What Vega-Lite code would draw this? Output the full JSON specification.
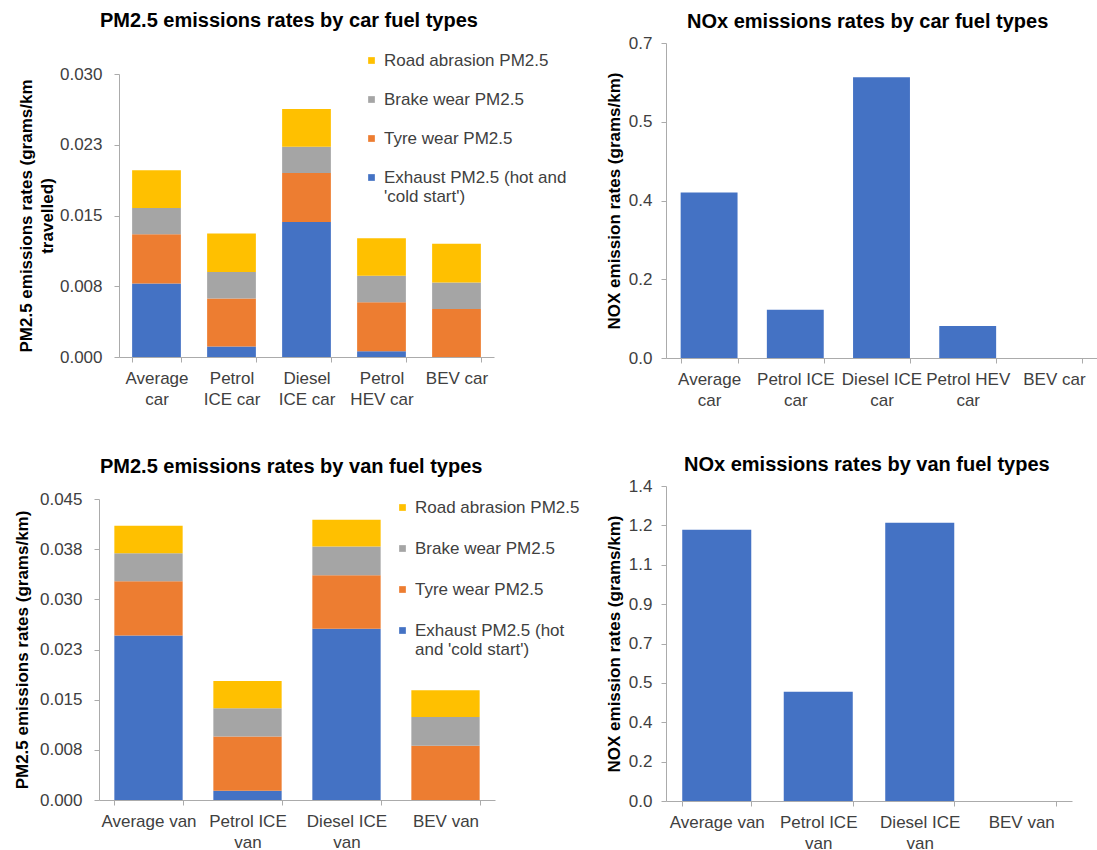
{
  "$schema": "https://vega.github.io/schema/vega-lite/v6.json",
  "padding": {"left": 13, "top": 11, "right": 0, "bottom": 0},
  "background": "white",
  "datasets": {
    "pm_car": [
      {"fuel": "Average|car", "source": "Exhaust PM2.5 (hot and|'cold start')", "k": 1, "rate": 0.0078},
      {"fuel": "Average|car", "source": "Tyre wear PM2.5", "k": 2, "rate": 0.0052},
      {"fuel": "Average|car", "source": "Brake wear PM2.5", "k": 3, "rate": 0.0028},
      {"fuel": "Average|car", "source": "Road abrasion PM2.5", "k": 4, "rate": 0.0040},
      {"fuel": "Petrol|ICE car", "source": "Exhaust PM2.5 (hot and|'cold start')", "k": 1, "rate": 0.0011},
      {"fuel": "Petrol|ICE car", "source": "Tyre wear PM2.5", "k": 2, "rate": 0.0051},
      {"fuel": "Petrol|ICE car", "source": "Brake wear PM2.5", "k": 3, "rate": 0.0028},
      {"fuel": "Petrol|ICE car", "source": "Road abrasion PM2.5", "k": 4, "rate": 0.0041},
      {"fuel": "Diesel|ICE car", "source": "Exhaust PM2.5 (hot and|'cold start')", "k": 1, "rate": 0.0143},
      {"fuel": "Diesel|ICE car", "source": "Tyre wear PM2.5", "k": 2, "rate": 0.0052},
      {"fuel": "Diesel|ICE car", "source": "Brake wear PM2.5", "k": 3, "rate": 0.0028},
      {"fuel": "Diesel|ICE car", "source": "Road abrasion PM2.5", "k": 4, "rate": 0.0040},
      {"fuel": "Petrol|HEV car", "source": "Exhaust PM2.5 (hot and|'cold start')", "k": 1, "rate": 0.0006},
      {"fuel": "Petrol|HEV car", "source": "Tyre wear PM2.5", "k": 2, "rate": 0.0052},
      {"fuel": "Petrol|HEV car", "source": "Brake wear PM2.5", "k": 3, "rate": 0.0028},
      {"fuel": "Petrol|HEV car", "source": "Road abrasion PM2.5", "k": 4, "rate": 0.0040},
      {"fuel": "BEV car", "source": "Exhaust PM2.5 (hot and|'cold start')", "k": 1, "rate": 0},
      {"fuel": "BEV car", "source": "Tyre wear PM2.5", "k": 2, "rate": 0.0051},
      {"fuel": "BEV car", "source": "Brake wear PM2.5", "k": 3, "rate": 0.0028},
      {"fuel": "BEV car", "source": "Road abrasion PM2.5", "k": 4, "rate": 0.0041}
    ],
    "pm_van": [
      {"fuel": "Average van", "source": "Exhaust PM2.5 (hot|and 'cold start')", "k": 1, "rate": 0.0246},
      {"fuel": "Average van", "source": "Tyre wear PM2.5", "k": 2, "rate": 0.0081},
      {"fuel": "Average van", "source": "Brake wear PM2.5", "k": 3, "rate": 0.0042},
      {"fuel": "Average van", "source": "Road abrasion PM2.5", "k": 4, "rate": 0.0041},
      {"fuel": "Petrol ICE|van", "source": "Exhaust PM2.5 (hot|and 'cold start')", "k": 1, "rate": 0.0014},
      {"fuel": "Petrol ICE|van", "source": "Tyre wear PM2.5", "k": 2, "rate": 0.0081},
      {"fuel": "Petrol ICE|van", "source": "Brake wear PM2.5", "k": 3, "rate": 0.0042},
      {"fuel": "Petrol ICE|van", "source": "Road abrasion PM2.5", "k": 4, "rate": 0.0041},
      {"fuel": "Diesel ICE|van", "source": "Exhaust PM2.5 (hot|and 'cold start')", "k": 1, "rate": 0.0256},
      {"fuel": "Diesel ICE|van", "source": "Tyre wear PM2.5", "k": 2, "rate": 0.0080},
      {"fuel": "Diesel ICE|van", "source": "Brake wear PM2.5", "k": 3, "rate": 0.0043},
      {"fuel": "Diesel ICE|van", "source": "Road abrasion PM2.5", "k": 4, "rate": 0.0040},
      {"fuel": "BEV van", "source": "Exhaust PM2.5 (hot|and 'cold start')", "k": 1, "rate": 0},
      {"fuel": "BEV van", "source": "Tyre wear PM2.5", "k": 2, "rate": 0.0081},
      {"fuel": "BEV van", "source": "Brake wear PM2.5", "k": 3, "rate": 0.0043},
      {"fuel": "BEV van", "source": "Road abrasion PM2.5", "k": 4, "rate": 0.0040}
    ],
    "nox_car": [
      {"fuel": "Average|car", "nox": 0.368},
      {"fuel": "Petrol ICE|car", "nox": 0.107},
      {"fuel": "Diesel ICE|car", "nox": 0.624},
      {"fuel": "Petrol HEV|car", "nox": 0.071},
      {"fuel": "BEV car", "nox": 0}
    ],
    "nox_van": [
      {"fuel": "Average van", "nox": 1.206},
      {"fuel": "Petrol ICE|van", "nox": 0.486},
      {"fuel": "Diesel ICE|van", "nox": 1.237},
      {"fuel": "BEV van", "nox": 0}
    ]
  },
  "hconcat": [
    {
      "vconcat": [
        {
          "width": 395,
          "height": 314,
          "title": {"text": "PM2.5 emissions rates by car fuel types", "anchor": "start", "frame": "group", "dx": 1, "offset": 12},
          "data": {"name": "pm_car"},
          "mark": "bar",
          "encoding": {
            "x": {
              "field": "fuel", "type": "nominal", "title": null,
              "sort": ["Average|car", "Petrol|ICE car", "Diesel|ICE car", "Petrol|HEV car", "BEV car"],
              "scale": {"range": [20, 395], "paddingInner": 0.35, "paddingOuter": 0.175},
              "axis": {"labelExpr": "split(datum.label, '|')"}
            },
            "y": {
              "field": "rate", "type": "quantitative", "stack": "zero",
              "scale": {"domain": [0, 0.03], "nice": false, "range": [314, 31]},
              "axis": {
                "offset": -20,
                "values": [0, 0.0075, 0.015, 0.0225, 0.03],
                "labelExpr": "format(datum.value + 1e-9, '.3f')",
                "title": ["PM2.5 emissions rates (grams/km", "travelled)"],
                "titlePadding": 3, "labelPadding": 12
              }
            },
            "color": {
              "field": "source", "type": "nominal",
              "scale": {
                "domain": ["Road abrasion PM2.5", "Brake wear PM2.5", "Tyre wear PM2.5", "Exhaust PM2.5 (hot and|'cold start')"],
                "range": ["#FFC000", "#A5A5A5", "#ED7D31", "#4472C4"]
              },
              "legend": {"legendX": 264, "legendY": 9, "rowPadding": 21, "labelExpr": "split(datum.label, '|')"}
            },
            "order": {"field": "k", "type": "quantitative"}
          }
        },
        {
          "width": 396,
          "height": 301,
          "title": {"text": "PM2.5 emissions rates by van fuel types", "anchor": "start", "frame": "group", "dx": 1, "offset": 13},
          "data": {"name": "pm_van"},
          "mark": "bar",
          "encoding": {
            "x": {
              "field": "fuel", "type": "nominal", "title": null,
              "sort": ["Average van", "Petrol ICE|van", "Diesel ICE|van", "BEV van"],
              "scale": {"paddingInner": 0.31, "paddingOuter": 0.155},
              "axis": {"labelExpr": "split(datum.label, '|')"}
            },
            "y": {
              "field": "rate", "type": "quantitative", "stack": "zero",
              "scale": {"domain": [0, 0.045], "nice": false},
              "axis": {
                "values": [0, 0.0075, 0.015, 0.0225, 0.03, 0.0375, 0.045],
                "labelExpr": "format(datum.value + 1e-9, '.3f')",
                "title": "PM2.5 emissions rates (grams/km)",
                "titlePadding": 8, "labelPadding": 12
              }
            },
            "color": {
              "field": "source", "type": "nominal",
              "scale": {
                "domain": ["Road abrasion PM2.5", "Brake wear PM2.5", "Tyre wear PM2.5", "Exhaust PM2.5 (hot|and 'cold start')"],
                "range": ["#FFC000", "#A5A5A5", "#ED7D31", "#4472C4"]
              },
              "legend": {"legendX": 295, "legendY": 0, "rowPadding": 23, "labelExpr": "split(datum.label, '|')"}
            },
            "order": {"field": "k", "type": "quantitative"}
          }
        }
      ],
      "spacing": 50,
      "resolve": {"scale": {"color": "independent"}, "legend": {"color": "independent"}}
    },
    {
      "vconcat": [
        {
          "width": 431,
          "height": 315,
          "title": {"text": "NOx emissions rates by car fuel types", "anchor": "start", "frame": "group", "dx": 21, "offset": 2},
          "data": {"name": "nox_car"},
          "mark": {"type": "bar", "color": "#4472C4"},
          "encoding": {
            "x": {
              "field": "fuel", "type": "nominal", "title": null,
              "sort": ["Average|car", "Petrol ICE|car", "Diesel ICE|car", "Petrol HEV|car", "BEV car"],
              "scale": {"paddingInner": 0.34, "paddingOuter": 0.17},
              "axis": {"labelExpr": "split(datum.label, '|')"}
            },
            "y": {
              "field": "nox", "type": "quantitative",
              "scale": {"domain": [0, 0.7], "nice": false},
              "axis": {
                "values": [0, 0.175, 0.35, 0.525, 0.7],
                "labelExpr": "format(datum.value + 1e-9, '.1f')",
                "title": "NOX emission rates (grams/km)",
                "titlePadding": 5, "labelPadding": 9
              }
            }
          }
        },
        {
          "width": 406,
          "height": 315,
          "title": {"text": "NOx emissions rates by van fuel types", "anchor": "start", "frame": "group", "dx": 18, "offset": 2},
          "data": {"name": "nox_van"},
          "mark": {"type": "bar", "color": "#4472C4"},
          "encoding": {
            "x": {
              "field": "fuel", "type": "nominal", "title": null,
              "sort": ["Average van", "Petrol ICE|van", "Diesel ICE|van", "BEV van"],
              "scale": {"paddingInner": 0.32, "paddingOuter": 0.16},
              "axis": {"labelExpr": "split(datum.label, '|')"}
            },
            "y": {
              "field": "nox", "type": "quantitative",
              "scale": {"domain": [0, 1.4], "nice": false},
              "axis": {
                "values": [0, 0.175, 0.35, 0.525, 0.7, 0.875, 1.05, 1.225, 1.4],
                "labelExpr": "format(datum.value + 1e-9, '.1f')",
                "title": "NOX emission rates (grams/km)",
                "titlePadding": 5, "labelPadding": 9
              }
            }
          }
        }
      ],
      "spacing": 47
    }
  ],
  "spacing": 25,
  "resolve": {"scale": {"color": "independent"}, "legend": {"color": "independent"}},
  "config": {
    "font": "Liberation Sans",
    "view": {"stroke": null},
    "title": {"font": "Liberation Sans", "fontSize": 20, "fontWeight": "bold", "color": "#000000"},
    "axis": {
      "labelFont": "Liberation Sans", "labelFontSize": 17, "labelColor": "#404040",
      "titleFont": "Liberation Sans", "titleFontSize": 17, "titleFontWeight": "bold", "titleColor": "#000000",
      "domainColor": "#ABABAB", "tickColor": "#ABABAB", "grid": false, "tickSize": 5
    },
    "axisX": {"labelAngle": 0, "tickBand": "extent", "labelPadding": 8, "labelLineHeight": 21},
    "axisY": {"titleLineHeight": 21},
    "legend": {
      "orient": "none", "title": null,
      "labelFont": "Liberation Sans", "labelFontSize": 17, "labelColor": "#404040",
      "symbolType": "square", "symbolSize": 45, "labelOffset": 4, "labelLimit": 400
    }
  }
}
